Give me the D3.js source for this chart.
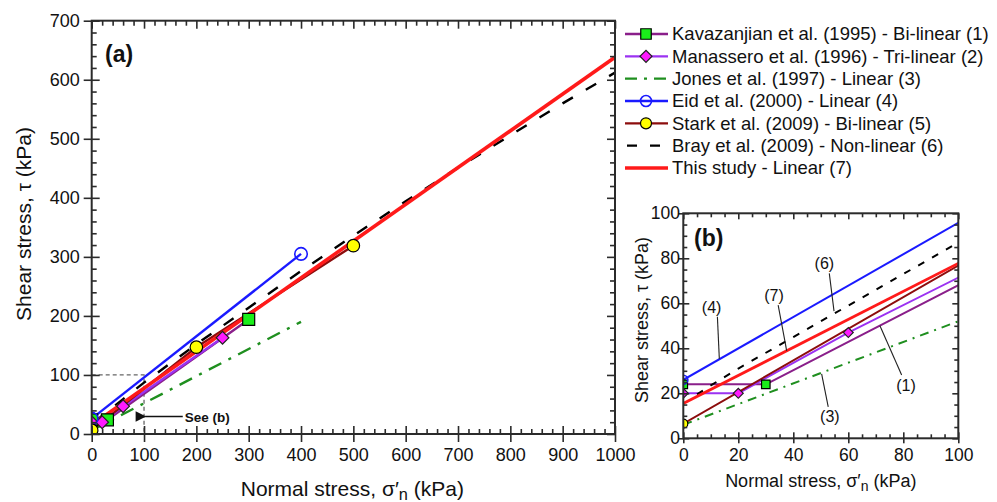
<!DOCTYPE html>
<html><head><meta charset="utf-8">
<script src="https://cdn.jsdelivr.net/npm/d3@7"></script>
<style>
body{margin:0;background:#fff;}
svg{display:block;font-family:"Liberation Sans", Arial, Helvetica, sans-serif;}
</style></head><body>
<svg id="chart" width="997" height="502"></svg>
<script>
// ---------- DATA ----------
const legendLabels = [
  "Kavazanjian et al. (1995) - Bi-linear (1)",
  "Manassero et al. (1996) - Tri-linear (2)",
  "Jones et al. (1997) - Linear (3)",
  "Eid et al. (2000) - Linear (4)",
  "Stark et al. (2009) - Bi-linear (5)",
  "Bray et al. (2009) - Non-linear (6)",
  "This study - Linear (7)"
];
// [normal stress (kPa), shear stress (kPa)]
const kavazanjian = [[0,24],[30,24],[300,194]];
const manassero   = [[0,20],[20,20],[60,47],[250,163]];
const jones       = [[0,6],[400,190]];
const eid         = [[0,26],[400,305]];
const stark       = [[0,6.5],[200,147],[500,319]];
const bray        = [[5,19.5],[10,23.5],[20,31],[40,45],[60,59],[80,73],[100,87],[200,152],[300,214],[400,276],[500,336],[600,394],[700,451],[800,506],[900,560],[1000,612]];
const thisStudy   = [[0,15.5],[1000,638]];
const markerSeries = [true, true, false, true, true, false, false];

const mainXTicks = [0,100,200,300,400,500,600,700,800,900,1000];
const mainYTicks = [0,100,200,300,400,500,600,700];
const insetTicks = [0,20,40,60,80,100];

// inset annotations: label, text position, leader start, leader end (data units)
const insetNotes = [
  {label:"(4)", t:[10.3,58.2], a:[12.4,54.0], b:[13.1,35.3]},
  {label:"(7)", t:[33.0,63.3], a:[34.5,59.2], b:[37.6,38.9]},
  {label:"(6)", t:[51.3,77.8], a:[53.1,73.3], b:[54.8,56.5]},
  {label:"(1)", t:[81.0,23.7], a:[79.4,28.1], b:[71.5,50.0]},
  {label:"(3)", t:[53.3,9.6],  a:[52.7,14.0], b:[50.3,28.6]}
];

const allSeries = [kavazanjian, manassero, jones, eid, stark, bray, thisStudy];

// ---------- STYLES ----------
const styles = [
  {color:"#8a1f8a", marker:"square",  fill:"#1aee1a", mstroke:"#000"},
  {color:"#9b32f2", marker:"diamond", fill:"#ff1aff", mstroke:"#222"},
  {color:"#1f8f1f", dash:"dashdot"},
  {color:"#1a1aff", marker:"circle",  fill:"none", mstroke:"#1a1aff"},
  {color:"#8c0d0d", marker:"circle",  fill:"#ffff00", mstroke:"#000"},
  {color:"#000000", dash:"dash"},
  {color:"#ff1a1a", wide:true}
];

const svg = d3.select("#chart");
const frameColor = "#2b2b2b";

function markerPath(type, s) {
  if (type === "square") return d3.symbol(d3.symbolSquare, s*s)();
  if (type === "diamond") return d3.symbol(d3.symbolSquare, s*s)();
  return d3.symbol(d3.symbolCircle, Math.PI*(s/2)*(s/2))();
}

function drawPanel(cfg) {
  const g = svg.append("g");
  const x = d3.scaleLinear().domain(cfg.xDomain).range(cfg.xRange);
  const y = d3.scaleLinear().domain(cfg.yDomain).range(cfg.yRange);
  const clipId = "clip-" + cfg.id;
  svg.append("clipPath").attr("id", clipId).append("rect")
    .attr("x", cfg.xRange[0]).attr("y", cfg.yRange[1])
    .attr("width", cfg.xRange[1]-cfg.xRange[0]).attr("height", cfg.yRange[0]-cfg.yRange[1]);

  const plot = g.append("g").attr("clip-path", `url(#${clipId})`);
  if (cfg.extra) cfg.extra(plot, x, y);

  const line = d3.line().x(d => x(d[0])).y(d => y(d[1]));
  allSeries.forEach((data, i) => {
    const st = styles[i];
    const p = plot.append("path").datum(data).attr("d", line)
      .attr("fill","none").attr("stroke", st.color)
      .attr("stroke-width", st.wide ? cfg.wideW : cfg.lineW)
      .attr("stroke-linejoin","round");
    if (st.dash === "dash") p.attr("stroke-dasharray", cfg.dash);
    if (st.dash === "dashdot") p.attr("stroke-dasharray", cfg.dashdot);
  });
  allSeries.forEach((data, i) => {
    const st = styles[i];
    if (!markerSeries[i]) return;
    const size = cfg.msize[st.marker];
    plot.selectAll(null).data(data).enter().append("path")
      .attr("d", markerPath(st.marker, size))
      .attr("transform", d => `translate(${x(d[0])},${y(d[1])})` + (st.marker === "diamond" ? " rotate(45)" : ""))
      .attr("fill", st.fill).attr("stroke", st.mstroke)
      .attr("stroke-width", st.marker === "circle" && st.fill === "none" ? 1.6 : 1.2);
  });

  // frame
  g.append("rect").attr("x", cfg.xRange[0]).attr("y", cfg.yRange[1])
    .attr("width", cfg.xRange[1]-cfg.xRange[0]).attr("height", cfg.yRange[0]-cfg.yRange[1])
    .attr("fill","none").attr("stroke", frameColor).attr("stroke-width", 2);

  const xMinor = d3.range(cfg.xDomain[0], cfg.xDomain[1]+1e-9, cfg.xMinorStep).filter(v => !cfg.xTicks.includes(v));
  const yMinor = d3.range(cfg.yDomain[0], cfg.yDomain[1]+1e-9, cfg.yMinorStep).filter(v => !cfg.yTicks.includes(v));

  function styleAxis(sel) {
    sel.select(".domain").remove();
    sel.selectAll("line").attr("stroke", frameColor).attr("stroke-width", 1.6);
    sel.selectAll("text").attr("fill","#111").style("font-size", cfg.tickFont + "px").attr("font-family", null);
  }
  const bottom = cfg.yRange[0], top = cfg.yRange[1], left = cfg.xRange[0], right = cfg.xRange[1];
  // bottom
  g.append("g").attr("transform", `translate(0,${bottom})`)
    .call(d3.axisBottom(x).tickValues(cfg.xTicks).tickSize(cfg.outT).tickPadding(cfg.xPad).tickFormat(d3.format("d"))).call(styleAxis);
  g.append("g").attr("transform", `translate(0,${bottom})`)
    .call(d3.axisBottom(x).tickValues(cfg.xTicks).tickSize(-cfg.inT).tickFormat("")).call(styleAxis);
  g.append("g").attr("transform", `translate(0,${bottom})`)
    .call(d3.axisBottom(x).tickValues(xMinor).tickSize(-cfg.minT).tickFormat("")).call(styleAxis);
  // left
  g.append("g").attr("transform", `translate(${left},0)`)
    .call(d3.axisLeft(y).tickValues(cfg.yTicks).tickSize(cfg.outT).tickPadding(cfg.yPad).tickFormat(d3.format("d"))).call(styleAxis);
  g.append("g").attr("transform", `translate(${left},0)`)
    .call(d3.axisLeft(y).tickValues(cfg.yTicks).tickSize(-cfg.inT).tickFormat("")).call(styleAxis);
  g.append("g").attr("transform", `translate(${left},0)`)
    .call(d3.axisLeft(y).tickValues(yMinor).tickSize(-cfg.minT).tickFormat("")).call(styleAxis);
  // top
  g.append("g").attr("transform", `translate(0,${top})`)
    .call(d3.axisTop(x).tickValues(cfg.xTicks).tickSize(-cfg.inT).tickFormat("")).call(styleAxis);
  g.append("g").attr("transform", `translate(0,${top})`)
    .call(d3.axisTop(x).tickValues(xMinor).tickSize(-cfg.minT).tickFormat("")).call(styleAxis);
  // right
  g.append("g").attr("transform", `translate(${right},0)`)
    .call(d3.axisRight(y).tickValues(cfg.yTicks).tickSize(-cfg.inT).tickFormat("")).call(styleAxis);
  g.append("g").attr("transform", `translate(${right},0)`)
    .call(d3.axisRight(y).tickValues(yMinor).tickSize(-cfg.minT).tickFormat("")).call(styleAxis);

  // axis titles
  const xt = g.append("text").attr("x", (left+right)/2 + cfg.xTitleDx).attr("y", cfg.xTitleY)
    .attr("text-anchor","middle").style("font-size", cfg.titleFont + "px").attr("fill","#111");
  xt.append("tspan").text("Normal stress, σ′");
  xt.append("tspan").text("n").attr("dy", cfg.subDy).style("font-size", (cfg.titleFont*0.78)+"px");
  xt.append("tspan").text(" (kPa)").attr("dy", -cfg.subDy);

  g.append("text").attr("transform", `translate(${cfg.yTitleX},${cfg.yTitleY}) rotate(-90)`)
    .attr("text-anchor","middle").style("font-size", cfg.titleFont + "px").attr("fill","#111")
    .text("Shear stress, τ (kPa)");

  g.append("text").attr("x", cfg.tagX).attr("y", cfg.tagY).text(cfg.tag)
    .style("font-size","23px").style("font-weight","bold").attr("fill","#111");
  return {g, x, y};
}

// ---------- MAIN PANEL (a) ----------
const main = drawPanel({
  id:"a", xDomain:[0,1000], yDomain:[0,700],
  xRange:[91.7,615], yRange:[434,20.7],
  xTicks: mainXTicks, yTicks: mainYTicks, xMinorStep:20, yMinorStep:20,
  outT:8, inT:8, minT:5, xPad:6, yPad:4, tickFont:18,
  lineW:2.4, wideW:3.6, dash:"12,15", dashdot:"14,8,3,8",
  msize:{square:12, diamond:9, circle:12.5},
  titleFont:21, subDy:3.5, xTitleY:496, xTitleDx:-1, yTitleX:31, yTitleY:224,
  tag:"(a)", tagX:105, tagY:62,
  extra:(p, x, y) => {
    // dashed box marking the zoomed region
    p.append("path").attr("d", d3.line()([[x(0),y(100)],[x(100),y(100)],[x(100),y(0)]]))
      .attr("fill","none").attr("stroke","#666").attr("stroke-width",1.3).attr("stroke-dasharray","4,3");
  }
});
// "See (b)" arrow
{
  const {g, x, y} = main;
  svg.append("defs").append("marker").attr("id","arrowhead").attr("viewBox","0 0 10 10")
    .attr("refX",1).attr("refY",5).attr("markerWidth",10).attr("markerHeight",7).attr("orient","auto-start-reverse")
    .append("path").attr("d","M10,0 L0,5 L10,10 z").attr("fill","#111");
  g.append("line").attr("x1", x(174)).attr("x2", x(102)).attr("y1", y(29.5)).attr("y2", y(29.5))
    .attr("stroke","#111").attr("stroke-width",1.5).attr("marker-end","url(#arrowhead)");
  g.append("text").attr("x", x(178)).attr("y", y(29.5)+5).text("See (b)")
    .style("font-size","13.5px").style("font-weight","bold").attr("fill","#111");
}

// ---------- INSET PANEL (b) ----------
const inset = drawPanel({
  id:"b", xDomain:[0,100], yDomain:[0,100],
  xRange:[683.3,958.3], yRange:[438.3,213.3],
  xTicks: insetTicks, yTicks: insetTicks, xMinorStep:5, yMinorStep:5,
  outT:5, inT:6, minT:4, xPad:5, yPad:-1.7, tickFont:17.5,
  lineW:2, wideW:2.8, dash:"7,9", dashdot:"9,6,2,6",
  msize:{square:8.5, diamond:7, circle:9},
  titleFont:18, subDy:3.5, xTitleY:487, xTitleDx:0, yTitleX:648, yTitleY:320,
  tag:"(b)", tagX:694, tagY:246
});
{
  const {g, x, y} = inset;
  insetNotes.forEach(n => {
    g.append("line").attr("x1", x(n.a[0])).attr("y1", y(n.a[1])).attr("x2", x(n.b[0])).attr("y2", y(n.b[1]))
      .attr("stroke","#222").attr("stroke-width",1.1);
    g.append("text").attr("x", x(n.t[0])).attr("y", y(n.t[1])).attr("dy","0.35em")
      .attr("text-anchor","middle").style("font-size","16px").attr("fill","#111").text(n.label);
  });
}

// ---------- LEGEND ----------
{
  const lg = svg.append("g");
  const rowY = d3.scaleLinear().domain([0,6]).range([34,168]);
  legendLabels.forEach((lab, i) => {
    const st = styles[i];
    const yy = rowY(i);
    const ln = lg.append("line").attr("x1",625).attr("x2",668).attr("y1",yy).attr("y2",yy)
      .attr("stroke", st.color).attr("stroke-width", st.wide ? 3.6 : 2.4);
    if (st.dash === "dash") ln.attr("stroke-dasharray","10,13").attr("x1",627);
    if (st.dash === "dashdot") ln.attr("stroke-dasharray","12,7,3,7");
    if (st.marker) {
      const s = {square:10.5, diamond:8.5, circle:11}[st.marker];
      lg.append("path").attr("d", markerPath(st.marker, s))
        .attr("transform", `translate(646,${yy})` + (st.marker === "diamond" ? " rotate(45)" : ""))
        .attr("fill", st.fill).attr("stroke", st.mstroke).attr("stroke-width", st.fill === "none" ? 1.6 : 1.2);
    }
    lg.append("text").attr("x",672).attr("y",yy).attr("dy","0.35em")
      .style("font-size","18.5px").attr("fill","#111").text(lab);
  });
}
</script>
</body></html>
